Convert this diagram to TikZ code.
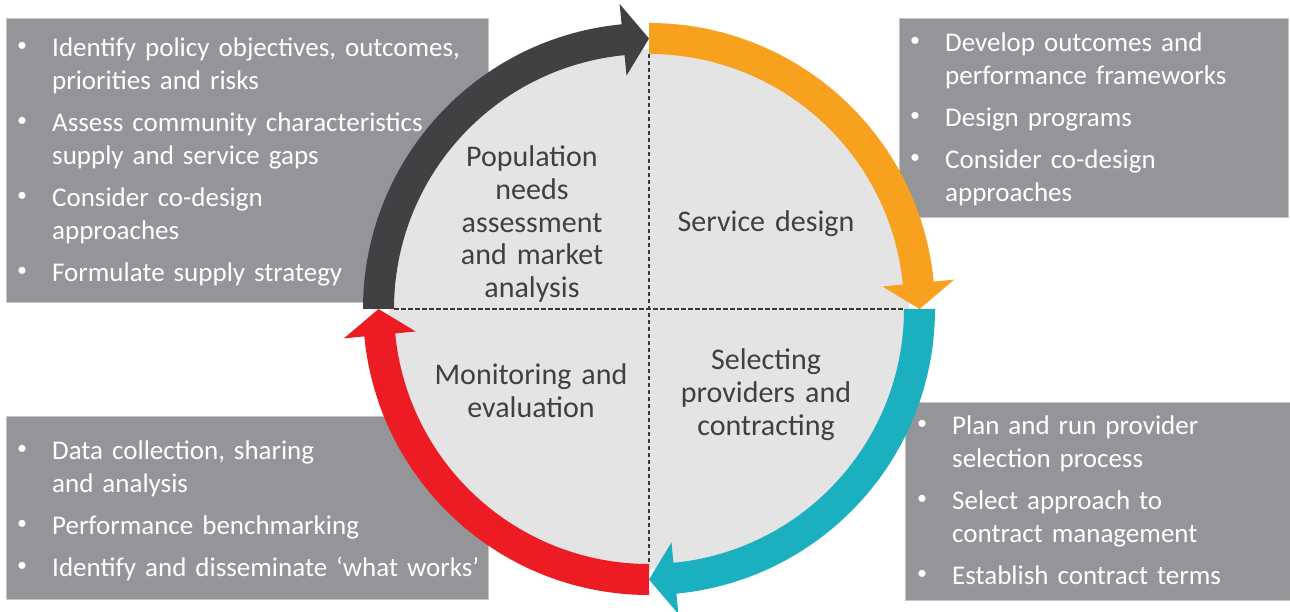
\documentclass[tikz,border=0pt]{standalone}
\usepackage{fontspec}
\setmainfont{Carlito}
\usepackage{xcolor}
\usepackage{tikz}
\definecolor{ringdark}{RGB}{65, 64, 66}
\definecolor{ringorange}{RGB}{247, 161, 31}
\definecolor{ringteal}{RGB}{27, 176, 191}
\definecolor{ringred}{RGB}{237, 28, 36}
\definecolor{panelgrey}{RGB}{147, 149, 152}
\definecolor{diskgrey}{RGB}{228, 228, 228}
\definecolor{labelgrey}{RGB}{64, 64, 64}
\newcommand{\bul}{\leavevmode\llap{\makebox[0pt]{\raisebox{5pt}{\fontsize{20}{20}\selectfont\textbullet}}\hspace{30pt}}}

\begin{document}
\begin{tikzpicture}[x=1pt, y=1pt,
    panel/.style = {fill=panelgrey, draw=panelgrey!55!white, line width=0.8pt},
    bullets/.style = {text=white, font=\fontsize{27}{33}\selectfont, text width=#1, align=left, inner sep=0, anchor=base west},
    phase/.style = {text=labelgrey, font=\fontsize{30}{32.6}\selectfont, text width=240, align=center, inner sep=0, anchor=base},
    divider/.style = {draw=labelgrey!90!black, line width=1.1pt, dash pattern=on 4.5pt off 2.5pt}]
    \useasboundingbox (0,0) rectangle (1290,612);
    % grey panels behind the cycle
    \draw[panel] (6,310) rectangle (488,594);
    \draw[panel] (899,395) rectangle (1288,594);
    \draw[panel] (6,13) rectangle (488,196);
    \draw[panel] (905,12) rectangle (1295,210);
    \node[bullets=440] (needslist) at (52,555) {\bul Identify policy objectives, outcomes,\\
        priorities and risks\\[9pt]
        \bul Assess community characteristics\\
        supply and service gaps\\[9pt]
        \bul Consider co-design\\
        approaches\\[9pt]
        \bul Formulate supply strategy};
    \node[bullets=330] (designlist) at (945,560) {\bul Develop outcomes and\\
        performance frameworks\\[9pt]
        \bul Design programs\\[9pt]
        \bul Consider co-design\\
        approaches};
    \node[bullets=440] (monitorlist) at (52,152) {\bul Data collection, sharing\\
        and analysis\\[9pt]
        \bul Performance benchmarking\\[9pt]
        \bul Identify and disseminate ‘what works’};
    \node[bullets=330] (selectlist) at (952,177) {\bul Plan and run provider\\
        selection process\\[9pt]
        \bul Select approach to\\
        contract management\\[9pt]
        \bul Establish contract terms};
    % the cycle
    \begin{scope}[shift={(649,303)}]
        \fill[diskgrey] (0,0) circle (260);
        \draw[divider] (90:255) -- (270:255);
        \draw[divider] (180:255) -- (0:255);
        \foreach \col/\s in {ringdark/180, ringorange/90, ringteal/0, ringred/270}
            \fill[\col] (\s:286) arc[start angle=\s, end angle=\s-84.5, radius=286]
                -- (\s-84.5:306.5) -- (\s-90:270.5) -- (\s-84.5:234.5) -- (\s-84.5:255)
                arc[start angle=\s-84.5, end angle=\s, radius=255] -- cycle;
    \end{scope}
    \node[phase] (needs) at (532,445) {Population\\ needs\\ assessment\\ and market\\ analysis};
    \node[phase] (design) at (766,380) {Service design};
    \node[phase] (select) at (766,242) {Selecting\\ providers and\\ contracting};
    \node[phase] (monitor) at (531,227) {Monitoring and\\ evaluation};
\end{tikzpicture}
\end{document}
